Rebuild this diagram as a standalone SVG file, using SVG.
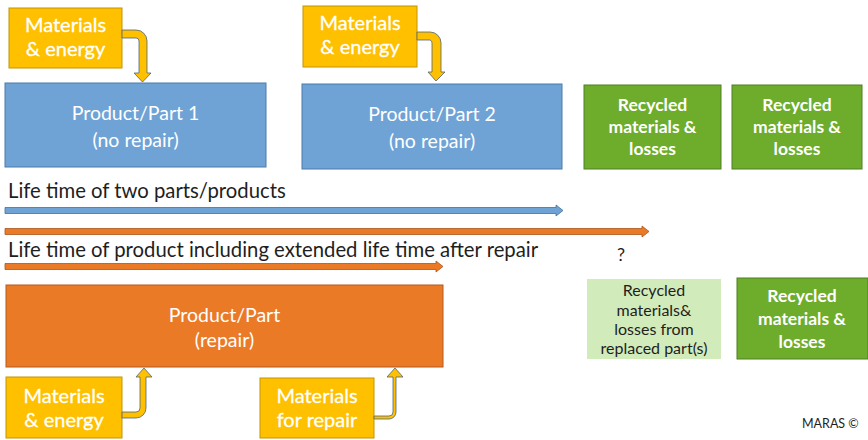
<svg xmlns="http://www.w3.org/2000/svg" width="868" height="440" viewBox="0 0 868 440">
  <style>
    text { font-family: Lato, "Open Sans", "Liberation Sans", sans-serif; }
    .yel { fill: #FFC000; stroke: #C49400; stroke-width: 1; }
    .blue { fill: #6FA3D6; stroke: #4A7BAA; stroke-width: 1; }
    .grn { fill: #6EAC2C; stroke: #4E7F22; stroke-width: 1; }
    .lgrn { fill: #D2EBBB; }
    .org { fill: #EB7A27; stroke: #B45A1E; stroke-width: 1; }
    .wt { fill: #FFFFFF; text-anchor: middle; font-size: 19.5px; }
    .wy { fill: #FFFFFF; text-anchor: middle; font-size: 20px; stroke: #FFFFFF; stroke-width: 0.3; }
    .wb { fill: #FFFFFF; text-anchor: middle; font-size: 17.5px; font-weight: 700; }
    .dk { fill: #1E1E1E; text-anchor: middle; font-size: 16px; }
    .lbl { fill: #1E1E1E; font-size: 20.3px; }
    .bend { fill: #FFC000; stroke: #4F6478; stroke-width: 0.8; stroke-linejoin: round; }
    .tblue { fill: #6FA3D6; stroke: #41719C; stroke-width: 0.8; }
    .torg { fill: #EB7A27; stroke: #A85520; stroke-width: 0.8; }
  </style>

  <!-- top row: material inputs -->
  <g id="mat-energy-1">
    <rect class="yel" x="9" y="8" width="113" height="60"/>
    <text class="wy" x="65.5" y="32">Materials</text>
    <text class="wy" x="65.5" y="56">&amp; energy</text>
  </g>
  <g id="mat-energy-2">
    <rect class="yel" x="303" y="6" width="114" height="61"/>
    <text class="wy" x="360" y="30">Materials</text>
    <text class="wy" x="360" y="54">&amp; energy</text>
  </g>

  <!-- product boxes without repair -->
  <g id="part-1">
    <rect class="blue" x="5" y="83" width="261" height="84"/>
    <text class="wt" x="135.5" y="120">Product/Part 1</text>
    <text class="wt" x="135.5" y="147">(no repair)</text>
  </g>
  <g id="part-2">
    <rect class="blue" x="302" y="84" width="260" height="85"/>
    <text class="wt" x="432" y="121">Product/Part 2</text>
    <text class="wt" x="432" y="148">(no repair)</text>
  </g>

  <!-- recycling outputs, top row -->
  <g id="recycled-1">
    <rect class="grn" x="584" y="85" width="137" height="84"/>
    <text class="wb" x="652.5" y="111">Recycled</text>
    <text class="wb" x="652.5" y="133">materials &amp;</text>
    <text class="wb" x="652.5" y="155">losses</text>
  </g>
  <g id="recycled-2">
    <rect class="grn" x="732" y="85" width="130" height="84"/>
    <text class="wb" x="797" y="111">Recycled</text>
    <text class="wb" x="797" y="133">materials &amp;</text>
    <text class="wb" x="797" y="155">losses</text>
  </g>

  <!-- timeline labels -->
  <g id="label-two-parts">
    <text class="lbl" x="8" y="198">Life time of two parts/products</text>
  </g>
  <g id="label-extended">
    <text class="lbl" x="8" y="257">Life time of product including extended life time after repair</text>
  </g>
  <g id="question">
    <text class="lbl" x="617" y="261" style="font-size:18px">?</text>
  </g>

  <!-- repaired product -->
  <g id="part-repair">
    <rect class="org" x="6" y="285" width="437" height="82"/>
    <text class="wt" x="224.5" y="322">Product/Part</text>
    <text class="wt" x="224.5" y="347">(repair)</text>
  </g>

  <!-- recycling outputs, bottom row -->
  <g id="recycled-replaced">
    <rect class="lgrn" x="587" y="279" width="134" height="80"/>
    <text class="dk" x="654" y="296">Recycled</text>
    <text class="dk" x="654" y="316">materials&amp;</text>
    <text class="dk" x="654" y="335">losses from</text>
    <text class="dk" x="654" y="354">replaced part(s)</text>
  </g>
  <g id="recycled-3">
    <rect class="grn" x="737" y="278" width="131" height="81"/>
    <text class="wb" x="802" y="302">Recycled</text>
    <text class="wb" x="802" y="325">materials &amp;</text>
    <text class="wb" x="802" y="348">losses</text>
  </g>

  <!-- bottom row: material inputs -->
  <g id="mat-energy-3">
    <rect class="yel" x="6" y="377" width="116" height="61"/>
    <text class="wy" x="64" y="403">Materials</text>
    <text class="wy" x="64" y="427">&amp; energy</text>
  </g>
  <g id="mat-repair">
    <rect class="yel" x="260" y="378" width="114" height="60"/>
    <text class="wy" x="317" y="403">Materials</text>
    <text class="wy" x="317" y="427">for repair</text>
  </g>

  <g id="copyright">
    <text x="802" y="428" style="font-size:12.5px; fill:#1E1E1E">MARAS ©</text>
  </g>

  <!-- connectors: bent input arrows and timeline arrows -->
  <g id="connectors">
    <!-- input to part 1 -->
    <path class="bend" d="M122,30 H136 A11,11 0 0 1 147,41 V73 H151 L142.5,82 L134,73 H139 V41 A3,3 0 0 0 136,38 H122 Z"/>
    <!-- input to part 2 -->
    <path class="bend" d="M417,32 H430 A11,11 0 0 1 441,43 V72 H445 L436,81 L428,72 H432 V43 A3,3 0 0 0 430,40 H417 Z"/>
    <!-- energy input to repaired product -->
    <path class="bend" d="M122,418 H136 A10,10 0 0 0 146,408 V377 H152 L144,368 L136,377 H140 V408 A4,4 0 0 1 136,412 H122 Z"/>
    <!-- repair materials input -->
    <path class="bend" d="M374,419 H389 A7,7 0 0 0 396,412 V377 H403 L395,368 L387,377 H393 V412 A4,4 0 0 1 389,416 H374 Z"/>

    <!-- life time of two parts -->
    <path class="tblue" d="M5,207.5 H556 V205 L563,210.5 L556,216 V213.5 H5 Z"/>
    <!-- extended life time -->
    <path class="torg" d="M5,228.5 H642 V226 L649,231.5 L642,237 V234.5 H5 Z"/>
    <!-- life time of repaired product -->
    <path class="torg" d="M5,263.5 H436 V261 L443,266.5 L436,272 V269.5 H5 Z"/>
  </g>
</svg>
